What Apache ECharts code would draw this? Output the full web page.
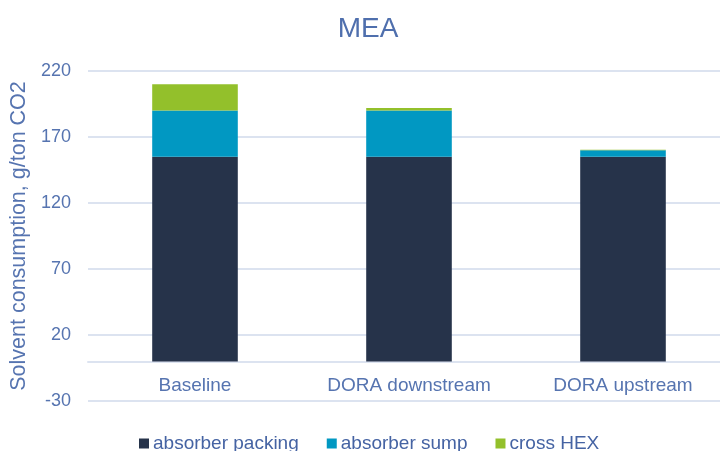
<!DOCTYPE html>
<html>
<head>
<meta charset="utf-8">
<title>MEA solvent consumption</title>
<script src="https://cdn.jsdelivr.net/npm/echarts@6/dist/echarts.min.js"></script>
<style>
  html, body { margin: 0; padding: 0; background: #ffffff; }
  #chart { width: 720px; height: 451px; }
</style>
</head>
<body>
<div id="chart"></div>
<script>
// Solvent consumption per configuration, g/ton CO2
const categories = ['Baseline', 'DORA downstream', 'DORA upstream'];
const absorberPacking = [155, 155, 155];
const absorberSump = [35, 35, 5];
const crossHex = [20, 2, 0.3];
const yTicks = { min: -30, max: 220, interval: 50 };

const FONT = 'Liberation Sans, Arial, sans-serif';
const GRID_COLOR = '#DCE3F0';
const TEXT_BLUE = '#5674B0';

const GRID_TOP = 71;
const GRID_HEIGHT = 330;
// distance from the bottom of the plot up to the zero line
const zeroOffset = GRID_HEIGHT * (0 - yTicks.min) / (yTicks.max - yTicks.min);

const chart = echarts.init(document.getElementById('chart'), null, { renderer: 'canvas' });

function barSeries(name, data, color) {
  return {
    name: name,
    type: 'bar',
    stack: 'total',
    barWidth: '40%',
    data: data,
    itemStyle: { color: color },
    emphasis: { disabled: true }
  };
}

chart.setOption({
  animation: false,
  backgroundColor: '#ffffff',
  textStyle: { fontFamily: FONT },
  title: {
    text: 'MEA',
    left: 368,
    top: 15,
    padding: 0,
    textAlign: 'center',
    textStyle: { color: '#4F6FAD', fontSize: 28, fontWeight: 'normal', fontFamily: FONT }
  },
  legend: {
    left: 139,
    top: 434,
    padding: 0,
    itemWidth: 10,
    itemHeight: 10,
    itemGap: 28,
    icon: 'rect',
    selectedMode: false,
    textStyle: { color: '#4563A3', fontSize: 19, fontFamily: FONT, padding: [0, 0, 0, -1] },
    data: ['absorber packing', 'absorber sump', 'cross HEX']
  },
  grid: {
    left: 88, top: GRID_TOP, width: 642, height: GRID_HEIGHT,
    containLabel: false,
    outerBoundsMode: 'none'
  },
  xAxis: {
    type: 'category',
    data: categories,
    offset: -zeroOffset,
    axisLine: { show: true, onZero: false, lineStyle: { color: GRID_COLOR, width: 2 } },
    axisTick: { show: false },
    axisLabel: { color: TEXT_BLUE, fontSize: 19, margin: 15, interval: 0, fontFamily: FONT },
    splitLine: { show: false }
  },
  yAxis: {
    type: 'value',
    min: yTicks.min,
    max: yTicks.max,
    interval: yTicks.interval,
    name: 'Solvent consumption, g/ton CO2',
    nameLocation: 'middle',
    nameGap: 51,
    nameTextStyle: { color: TEXT_BLUE, fontSize: 21.5, fontFamily: FONT },
    axisLine: { show: false },
    axisTick: { show: false },
    axisLabel: { color: TEXT_BLUE, fontSize: 18, margin: 17, fontFamily: FONT },
    splitLine: { show: true, lineStyle: { color: GRID_COLOR, width: 2 } }
  },
  series: [
    barSeries('absorber packing', absorberPacking, '#26334A'),
    barSeries('absorber sump', absorberSump, '#0198C2'),
    barSeries('cross HEX', crossHex, '#93C02B')
  ]
});
</script>
</body>
</html>
